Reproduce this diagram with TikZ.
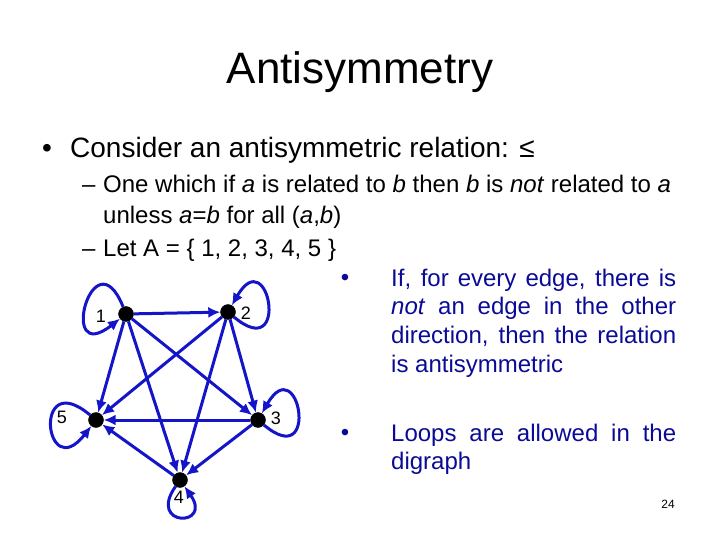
\documentclass[tikz,border=0pt]{standalone}
\usepackage{fontspec}
\setmainfont{Liberation Sans}
\usepackage{xcolor}
\usetikzlibrary{arrows.meta,positioning}
\definecolor{edgeblue}{RGB}{20,20,200}
\definecolor{notenavy}{RGB}{10,10,150}

\begin{document}
\begin{tikzpicture}[x=1pt,y=-1pt,
    vertex/.style={draw,circle,fill=black,minimum size=15pt,inner sep=0pt},
    vlabel/.style={font=\fontsize{18}{20}\selectfont,inner sep=0pt},
    arc/.style={draw=edgeblue,line width=3pt,-{Latex[length=12pt,width=11pt]}},
    txt/.style={anchor=base west,inner sep=0pt}]
            \useasboundingbox (0,0) rectangle (720,540);

            % Title and text
            \node[anchor=base,inner sep=0pt,font=\fontsize{44}{50}\selectfont] (title) at (360,84) {Antisymmetry};
            \node[anchor=base,inner sep=0pt,font=\fontsize{28}{32}\selectfont] (bul1) at (47,158) {•};
            \node[txt,font=\fontsize{28}{32}\selectfont] (cons) at (70,158) {Consider an antisymmetric relation: ≤};
            \node[txt,font=\fontsize{24}{28}\selectfont] (dash1) at (82,193) {–};
            \node[txt,font=\fontsize{24}{28}\selectfont] (one) at (103,193) {One which if \textit{a} is related to \textit{b} then \textit{b} is \textit{not} related to \textit{a}};
            \node[txt,font=\fontsize{24}{28}\selectfont] (unless) at (103,224) {unless \textit{a}=\textit{b} for all (\textit{a},\textit{b})};
            \node[txt,font=\fontsize{24}{28}\selectfont] (dash2) at (82,256) {–};
            \node[txt,font=\fontsize{24}{28}\selectfont] (letA) at (103,256) {Let A = \{ 1, 2, 3, 4, 5 \}};

            % Notes on the right
            \node[anchor=base,inner sep=0pt,text=notenavy,font=\fontsize{24}{28}\selectfont] (bul2) at (345,285) {•};
            \node[txt,text=notenavy,text width=285pt,align=justify,font=\fontsize{24}{28.7}\selectfont] (edgenote) at (391,286)
                {If, for every edge, there is\linebreak \textit{not} an edge in the other\linebreak direction, then the relation\linebreak is antisymmetric};
            \node[anchor=base,inner sep=0pt,text=notenavy,font=\fontsize{24}{28}\selectfont] (bul3) at (345,440) {•};
            \node[txt,text=notenavy,text width=285pt,align=justify,font=\fontsize{24}{28.7}\selectfont] (loopnote) at (391,441)
                {Loops are allowed in the\linebreak digraph};
            \node[anchor=base,inner sep=0pt,font=\fontsize{12}{14}\selectfont] (pageno) at (668,508) {24};

            % Vertices
            \node[vertex] (v1) at (126,314) {};
            \node[vertex] (v2) at (228,312) {};
            \node[vertex] (v3) at (258,420) {};
            \node[vertex] (v4) at (180,480) {};
            \node[vertex] (v5) at (96,420) {};
            \node[vlabel] (l1) at (101,316) {1};
            \node[vlabel] (l2) at (246,313) {2};
            \node[vlabel] (l3) at (276,418) {3};
            \node[vlabel] (l4) at (179,497) {4};
            \node[vlabel] (l5) at (62,417) {5};

            % Edges
            \draw[arc] (v1) -- (v2);
            \draw[arc] (v1) -- (v3);
            \draw[arc] (v1) -- (v4);
            \draw[arc] (v1) -- (v5);
            \draw[arc] (v2) -- (v3);
            \draw[arc] (v2) -- (v4);
            \draw[arc] (v2) -- (v5);
            \draw[arc] (v3) -- (v4);
            \draw[arc] (v3) -- (v5);
            \draw[arc] (v4) -- (v5);

            % Loops
            \draw[arc] (v1) to[out=112,in=218,min distance=80pt] (v1);
            \draw[arc] (v2) to[out=-40,in=60,min distance=74pt] (v2);
            \draw[arc] (v3) to[out=-40,in=60,min distance=74pt] (v3);
            \draw[arc] (v5) to[out=140,in=232,min distance=76pt] (v5);
            \draw[arc] (v4) to[out=235,in=-55,min distance=50pt] (v4);
        \end{tikzpicture}
\end{document}
